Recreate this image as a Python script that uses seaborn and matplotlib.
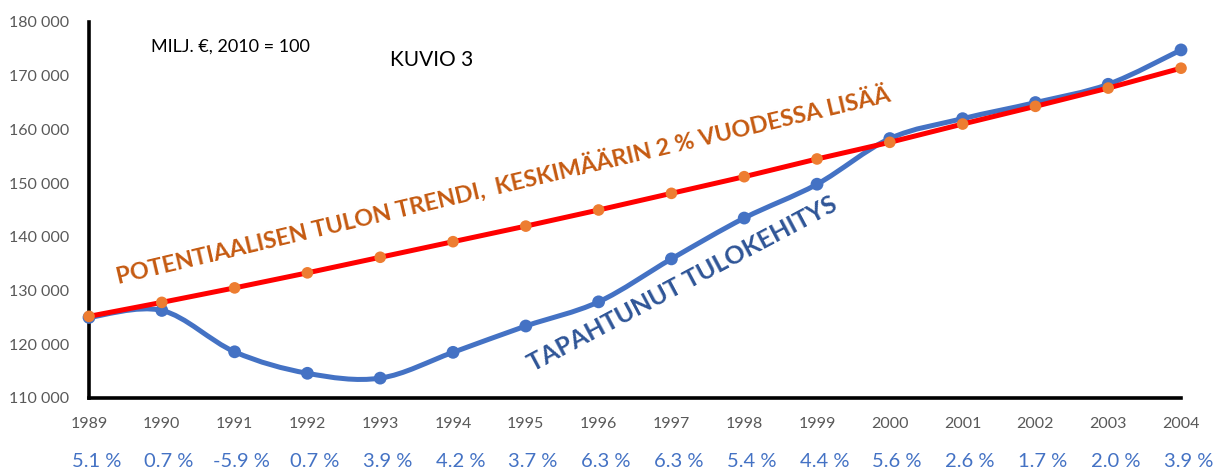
import numpy as np
import pandas as pd
import matplotlib
matplotlib.use("Agg")
import matplotlib.pyplot as plt
from matplotlib.path import Path
from matplotlib.patches import PathPatch
import matplotlib.transforms as mtransforms
import seaborn as sns

years = list(range(1989, 2005))
toteutunut = [125000, 126300, 118600, 114600, 113700, 118500, 123400, 127900,
              135900, 143500, 149800, 158300, 162000, 165000, 168400, 174800]
trendi = [125200, 127800, 130500, 133300, 136200, 139100, 142000, 145000,
          148100, 151200, 154500, 157600, 161000, 164300, 167700, 171400]
kasvu = ["5.1 %", "0.7 %", "-5.9 %", "0.7 %", "3.9 %", "4.2 %", "3.7 %", "6.3 %",
         "6.3 %", "5.4 %", "4.4 %", "5.6 %", "2.6 %", "1.7 %", "2.0 %", "3.9 %"]
y_ticks = [110000, 120000, 130000, 140000, 150000, 160000, 170000, 180000]

df = pd.DataFrame({"vuosi": years, "toteutunut": toteutunut, "trendi": trendi})

sns.set_style("white")
plt.rcParams['font.family'] = ['Lato', 'DejaVu Sans']

BLUE = "#4472C4"
RED = "#FF0000"
ORANGE = "#ED7D31"

fig = plt.figure(figsize=(12.31, 4.70), dpi=100)
ax = fig.add_axes([0.0723, 0.1532, 0.9594 - 0.0723, 0.9532 - 0.1532])


def smooth_path(xs, ys, t=1 / 6):
    # excel-tyylinen pehmennetty viiva (bezier)
    pts = np.column_stack([xs, ys]).astype(float)
    verts = [pts[0]]
    codes = [Path.MOVETO]
    n = len(pts)
    for i in range(n - 1):
        p0 = pts[i - 1] if i > 0 else pts[i]
        p1 = pts[i]
        p2 = pts[i + 1]
        p3 = pts[i + 2] if i + 2 < n else pts[i + 1]
        c1 = p1 + (p2 - p0) * t
        c2 = p2 - (p3 - p1) * t
        verts += [c1, c2, p2]
        codes += [Path.CURVE4] * 3
    return Path(verts, codes)


ax.add_patch(PathPatch(smooth_path(df.vuosi, df.toteutunut), facecolor="none",
                       edgecolor=BLUE, lw=3.6, capstyle="round", joinstyle="round",
                       zorder=2, clip_on=False))
sns.scatterplot(data=df, x="vuosi", y="toteutunut", color=BLUE, s=85,
                edgecolor="none", zorder=3, clip_on=False, ax=ax)
sns.lineplot(data=df, x="vuosi", y="trendi", color=RED, lw=3.6, zorder=4,
             clip_on=False, ax=ax)
sns.scatterplot(data=df, x="vuosi", y="trendi", color=ORANGE, s=70,
                edgecolor="none", zorder=5, clip_on=False, ax=ax)

ax.set_xlim(1989, 2004)
ax.set_ylim(110000, 180000)
ax.set_xticks(years)
ax.set_xticklabels([str(v) for v in years], color="#595959", fontsize=11.5)
ax.set_yticks(y_ticks)
ax.set_yticklabels([f"{v:,}".replace(",", " ") for v in y_ticks],
                   color="#595959", fontsize=11.5)
ax.tick_params(axis="x", direction="in", length=6, width=2.2, color="black", pad=14)
ax.tick_params(axis="y", length=0, pad=14)
ax.set_xlabel("")
ax.set_ylabel("")

for s in ["top", "right"]:
    ax.spines[s].set_visible(False)
for s in ["left", "bottom"]:
    ax.spines[s].set_color("black")
    ax.spines[s].set_linewidth(2.6)

trans = mtransforms.blended_transform_factory(ax.transData, ax.transAxes)
for v, lab in zip(years, kasvu):
    ax.text(v + 0.1, -0.17, lab, transform=trans, ha="center", va="center",
            color=BLUE, fontsize=14.5)

ax.text(0.057, 0.935, "MILJ. €, 2010 = 100", transform=ax.transAxes,
        fontsize=13, color="black", va="center")
ax.text(0.276, 0.9, "KUVIO 3", transform=ax.transAxes,
        fontsize=15, color="black", va="center")

ax.text(1989.4, 131300, "POTENTIAALISEN TULON TRENDI,  KESKIMÄÄRIN 2 % VUODESSA LISÄÄ",
        rotation=13.3, rotation_mode="anchor", color="#C55A11", fontsize=16.8,
        fontweight="bold", ha="left", va="baseline")
ax.text(1995.1, 114800, "TAPAHTUNUT TULOKEHITYS",
        rotation=28, rotation_mode="anchor", color="#2F5597", fontsize=18,
        fontweight="bold", ha="left", va="baseline")

fig.savefig("out.png", dpi=100)
